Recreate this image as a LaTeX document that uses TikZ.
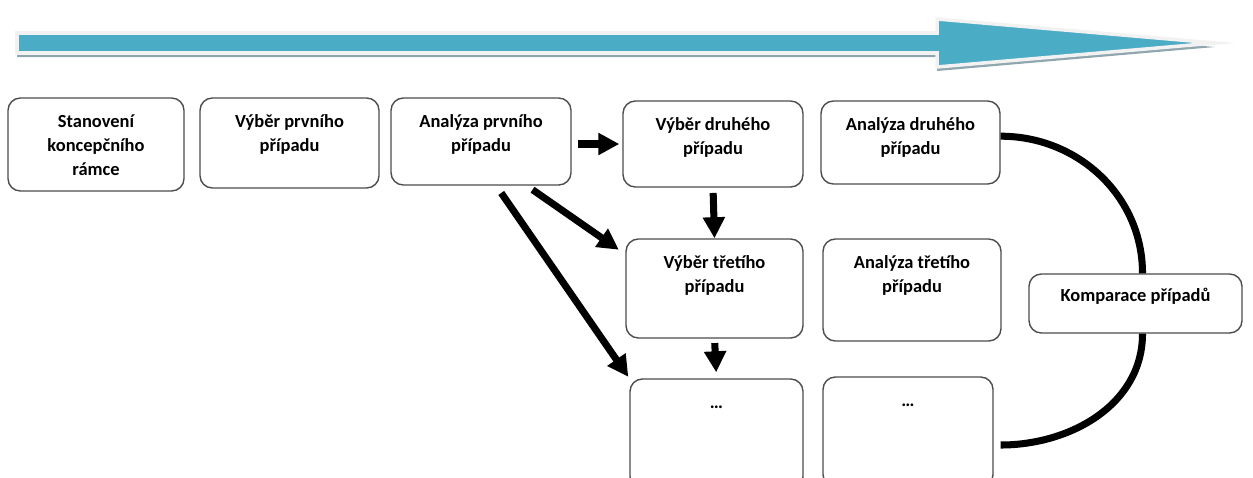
\documentclass[tikz,border=0pt]{standalone}
\usepackage{fontspec}
\setmainfont{Carlito}
\usepackage{tikz}
\usetikzlibrary{positioning,arrows.meta,calc}

\definecolor{pasmo}{HTML}{4BACC6}
\definecolor{stin}{HTML}{8FA6AE}
\definecolor{okraj}{HTML}{F2F2F2}
\newcommand{\pismo}{\fontsize{10.5}{13.6}\selectfont\bfseries}

\begin{document}
\begin{tikzpicture}
            [x=0.02cm, y=-0.02cm, font=\pismo,
            krok/.style={draw=black!70, line width=0.8pt, rounded corners=7pt,
            rectangle, inner sep=0pt},
            popis/.style={align=center, inner sep=0pt},
            sipka/.style={line width=4pt, -{Triangle[length=12pt,width=12pt]}},
            oblouk/.style={line width=4pt}]
            \useasboundingbox (0,0) rectangle (1253,477);
            \clip (0,0) rectangle (1253,477);

            % time arrow
            \fill[stin] (17,37) -- (937,37) -- (937,23) -- (1215,47) -- (937,71)
                -- (937,57) -- (17,57) -- cycle;
            \filldraw[fill=pasmo, draw=okraj, line width=2pt, miter limit=30]
                (17,33) -- (937,33) -- (937,19) -- (1215,43) -- (937,67)
                -- (937,53) -- (17,53) -- cycle;

            % boxes
            \node[krok, minimum width=3.52cm, minimum height=1.86cm] (ramec) at (96,144.5) {};
            \node[krok, minimum width=3.58cm, minimum height=1.80cm] (vyber1) at (289.5,143) {};
            \node[krok, minimum width=3.60cm, minimum height=1.74cm] (analyza1) at (481,141.5) {};
            \node[krok, minimum width=3.60cm, minimum height=1.72cm] (vyber2) at (713,144) {};
            \node[krok, minimum width=3.58cm, minimum height=1.66cm] (analyza2) at (910.5,142.5) {};
            \node[krok, minimum width=3.54cm, minimum height=1.98cm] (vyber3) at (714.5,288.5) {};
            \node[krok, minimum width=3.56cm, minimum height=2.04cm] (analyza3) at (912,290) {};
            \node[krok, minimum width=4.26cm, minimum height=1.18cm] (komparace) at (1135.5,303.5) {};
            \node[krok, minimum width=3.46cm, minimum height=2.20cm] (dalsi1) at (716.5,434) {};
            \node[krok, minimum width=3.40cm, minimum height=2.20cm] (dalsi2) at (908,432) {};

            % texts
            \node[popis, below=0.26cm of ramec.north] (ramecT) {\strut Stanovení\\koncepčního\\rámce};
            \node[popis, below=0.26cm of vyber1.north] (vyber1T) {\strut Výběr prvního\\případu};
            \node[popis, below=0.26cm of analyza1.north] (analyza1T) {\strut Analýza prvního\\případu};
            \node[popis, below=0.26cm of vyber2.north] (vyber2T) {\strut Výběr druhého\\případu};
            \node[popis, below=0.26cm of analyza2.north] (analyza2T) {\strut Analýza druhého\\případu};
            \node[popis, below=0.26cm of vyber3.north] (vyber3T) {\strut Výběr třetího\\případu};
            \node[popis, below=0.26cm of analyza3.north] (analyza3T) {\strut Analýza třetího\\případu};
            \node[popis, below=0.22cm of komparace.north] (komparaceT) {\strut Komparace případů};
            \node[popis, below=0.26cm of dalsi1.north] (dalsi1T) {\strut …};
            \node[popis, below=0.26cm of dalsi2.north] (dalsi2T) {\strut …};

            % flow
            \draw[sipka, shorten <=3.5pt, shorten >=1.7pt] (analyza1.east |- vyber2.west) -- (vyber2.west);
            \draw[sipka, shorten <=3pt] (vyber2.south) -- (vyber3.north);
            \draw[sipka, shorten <=2.5pt, shorten >=3.4pt] (vyber3.south) -- (dalsi1.north);
            \draw[sipka, shorten <=4pt, shorten >=4.5pt] (analyza1.-44) -- (vyber3.159);
            \draw[sipka, shorten <=5pt, shorten >=1pt] (analyza1.-71) -- (dalsi1.north west);
            \draw[oblouk] (analyza2.4) to[out=0, in=90] ([shift={(7,0)}]komparace.north);
            \draw[oblouk] ([shift={(7,0)}]komparace.south) to[out=-90, in=0] ([shift={(7,13)}]dalsi2.east);
\end{tikzpicture}
\end{document}
